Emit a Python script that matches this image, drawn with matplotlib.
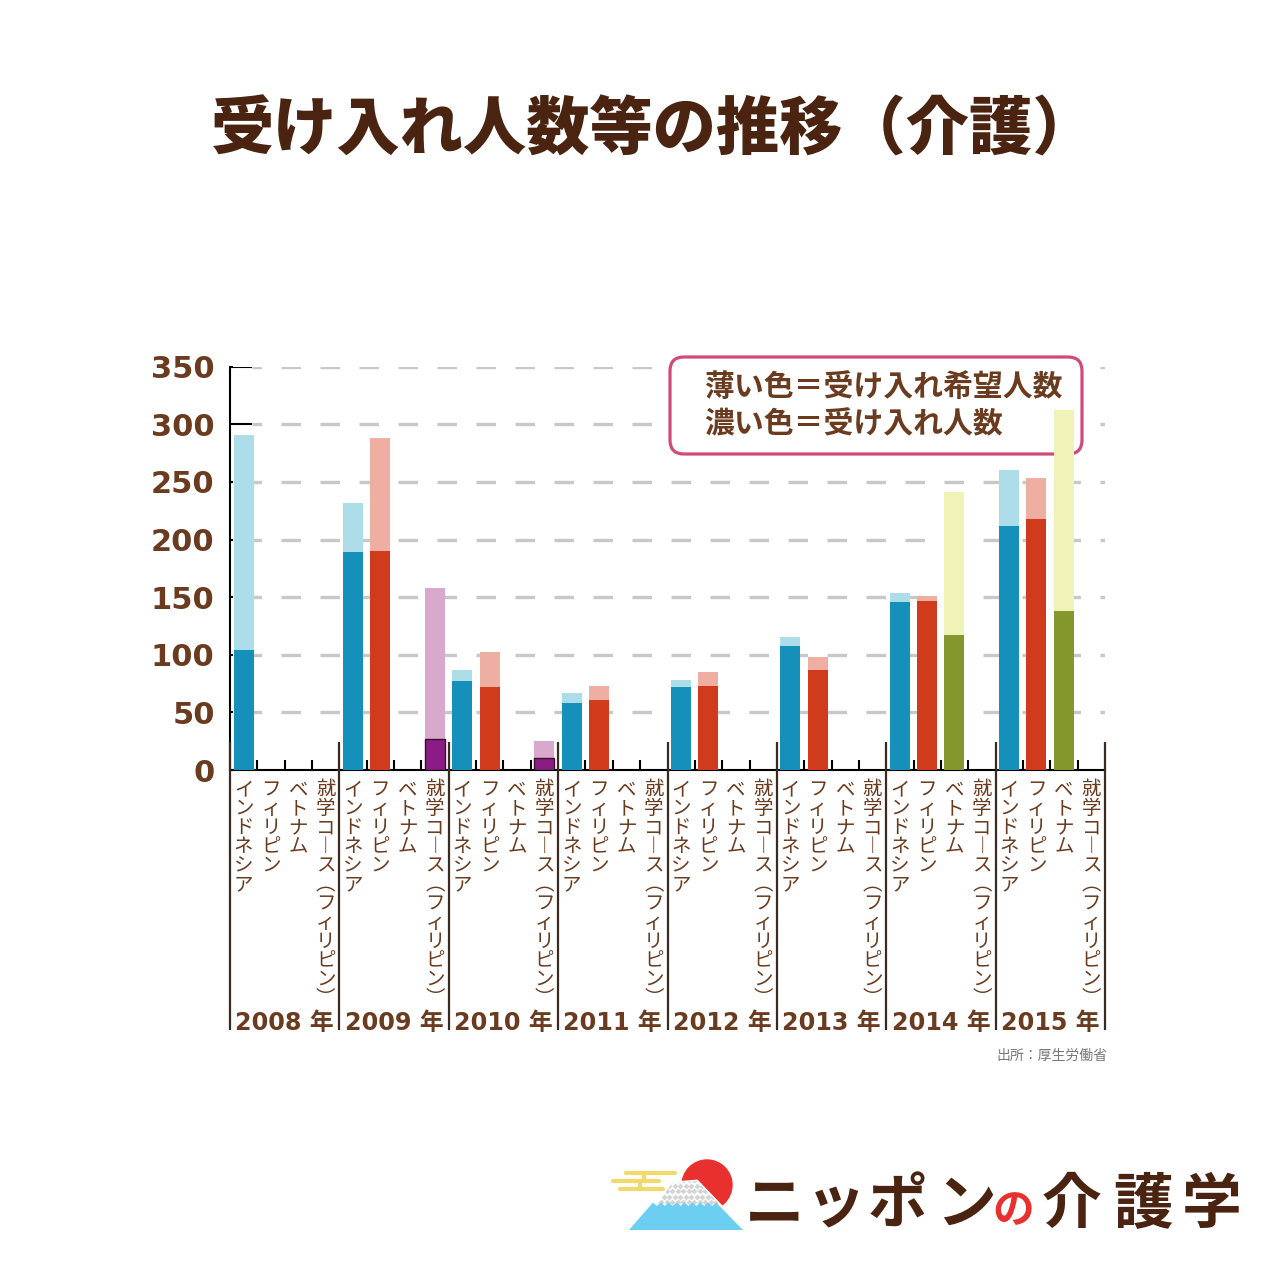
import numpy as np
import matplotlib
matplotlib.use('Agg')
import matplotlib.pyplot as plt
from matplotlib.transforms import blended_transform_factory
from matplotlib.patches import FancyBboxPatch, Polygon, Circle

plt.rcParams['lines.scale_dashes'] = False
plt.rcParams['font.family'] = ['Noto Sans CJK JP', 'DejaVu Sans']

nan = np.nan
# ---------------- data ----------------
years = ['2008', '2009', '2010', '2011', '2012', '2013', '2014', '2015']
categories = ['インドネシア', 'フィリピン', 'ベトナム', '就学コース（フィリピン）']
indonesia_hope = [291, 232, 87, 67, 78, 115, 154, 260]
indonesia_accept = [104, 189, 77, 58, 72, 108, 146, 212]
philippines_hope = [nan, 288, 102, 73, 85, 98, 151, 253]
philippines_accept = [nan, 190, 72, 61, 73, 87, 147, 218]
vietnam_hope = [nan, nan, nan, nan, nan, nan, 241, 312]
vietnam_accept = [nan, nan, nan, nan, nan, nan, 117, 138]
school_hope = [nan, 158, 25, nan, nan, nan, nan, nan]
school_accept = [nan, 27, 10, nan, nan, nan, nan, nan]
yticks = [0, 50, 100, 150, 200, 250, 300, 350]
title = '受け入れ人数等の推移（介護）'
legend_lines = ['薄い色＝受け入れ希望人数', '濃い色＝受け入れ人数']
source = '出所：厚生労働省'
logo_main = ['ニ', 'ッ', 'ポ', 'ン']
logo_no = 'の'
logo_tail = ['介', '護', '学']

hope_series = [indonesia_hope, philippines_hope, vietnam_hope, school_hope]
accept_series = [indonesia_accept, philippines_accept, vietnam_accept, school_accept]
light_colors = ['#acdde9', '#efaea2', '#f0f2b8', '#d8a9cd']
dark_colors = ['#1590bb', '#d03c1b', '#84972d', '#8c1c85']

BROWN = '#6b3b1f'
DARK = '#4a2410'

# ---------------- figure ----------------
fig = plt.figure(figsize=(12.8, 12.8), dpi=100)
ov = fig.add_axes([0, 0, 1, 1])
ov.set_xlim(0, 1280)
ov.set_ylim(1280, 0)
ov.axis('off')
ov.set_zorder(1)

ax_left, ax_right, ax_top, ax_bottom = 230, 1105, 366.7, 770
ax = fig.add_axes([ax_left / 1280, (1280 - ax_bottom) / 1280,
                   (ax_right - ax_left) / 1280, (ax_bottom - ax_top) / 1280])
ax.set_zorder(2)
ax.patch.set_alpha(0)
nslots = len(years) * len(categories)
ax.set_xlim(0, nslots)
ax.set_ylim(0, 350)
slot_px = (ax_right - ax_left) / nslots
for s in ['top', 'right']:
    ax.spines[s].set_visible(False)
for s in ['left', 'bottom']:
    ax.spines[s].set_linewidth(1.5)
    ax.spines[s].set_color('black')
ax.set_xticks([])
ax.set_yticks(yticks)
ax.tick_params(axis='y', direction='in', length=2.5, width=1.5, pad=11,
               labelsize=22, labelcolor=BROWN)
for lbl in ax.get_yticklabels():
    lbl.set_fontfamily('DejaVu Sans')
    lbl.set_fontweight('bold')

bx = blended_transform_factory(ax.transData, ov.transData)

# gridlines
grid_x0 = 22 / slot_px
for v in yticks[1:]:
    ax.plot([grid_x0, nslots], [v, v], color='#c8c8c8', lw=2.4,
            ls=(7.2, (14.04, 14.04)), zorder=1, solid_capstyle='butt',
            dash_capstyle='butt')
ax.hlines([350, 300], 0, 22 / slot_px, color='black', lw=1.5, zorder=3)

# slot ticks and group separators
ng = len(categories)
slot_bounds = [b for b in range(1, nslots) if b % ng != 0]
ax.vlines(slot_bounds, 760, 770, transform=bx, color='black', lw=1.5,
          zorder=6, clip_on=False)
ax.vlines(list(range(0, nslots + 1, ng)), 742, 1030, transform=bx,
          color='#3b2a20', lw=1.6, zorder=6, clip_on=False)

# bars
bar_off = 3.5 / slot_px
bar_w = 20 / slot_px
for k in range(len(categories)):
    xs = np.arange(len(years)) * ng + k + bar_off
    ax.bar(xs, hope_series[k], width=bar_w, align='edge',
           color=light_colors[k], zorder=4)
    ec = '#3a1030' if k == 3 else 'none'
    ax.bar(xs, accept_series[k], width=bar_w, align='edge',
           color=dark_colors[k], zorder=5, edgecolor=ec,
           linewidth=1 if k == 3 else 0)

# vertical category labels (stacked characters, vertical writing forms)
vertical_forms = {'（': '︵', '）': '︶', 'ー': '︱'}
fs_lab = 14
fs_px = fs_lab * 100 / 72
pitch = 19.0
top = 778
for i in range(len(years)):
    for k, cat in enumerate(categories):
        xc = i * ng + k + 0.5
        for j, ch in enumerate(cat):
            yc = top + pitch * j
            ax.text(xc, yc + 0.88 * fs_px, vertical_forms.get(ch, ch),
                    transform=bx, ha='center', va='baseline',
                    fontsize=fs_lab, color=BROWN)
    ax.text(i * ng + ng / 2, 1022.5, f'{years[i]} 年', transform=bx,
            ha='center', va='center', fontsize=17.2, fontweight='bold',
            color=BROWN, family=['DejaVu Sans', 'Noto Sans CJK JP'])

# legend box
box = FancyBboxPatch((670, 357), 412, 97,
                     boxstyle='round,pad=0,rounding_size=14',
                     transform=ov.transData, facecolor='white',
                     edgecolor='#cf4a7a', lw=2.3, zorder=3, clip_on=False)
ax.add_patch(box)
for n, line in enumerate(legend_lines):
    ax.text(704, 387 + 37 * n, line, transform=ov.transData, ha='left',
            va='center', fontsize=21.5, fontweight='bold', color=BROWN,
            zorder=3.5)

# title and source
ov.text(654, 131, title, ha='center', va='center', fontsize=45.5,
        fontweight='heavy', color=DARK)
ov.text(1107, 1056, source, ha='right', va='center', fontsize=10,
        color='#777777')

# ---------------- logo ----------------
for (xa, xb, yy) in [(626, 675, 1173), (613, 659, 1181), (620, 663, 1189)]:
    ov.plot([xa, xb], [yy, yy], color='#f2d96b', lw=3, solid_capstyle='round')
ov.plot([644, 644], [1173, 1181], color='#f2d96b', lw=3)
ov.plot([640, 640], [1181, 1189], color='#f2d96b', lw=3)
ov.add_patch(Circle((707, 1185), 25, color='#e8312f', zorder=2))
snow = Polygon([(672, 1183), (697, 1181), (721, 1206), (656, 1206)],
               closed=True, facecolor='white', edgecolor='white', lw=2,
               zorder=3)
ov.add_patch(snow)
gx, gy = np.meshgrid(np.arange(650, 725, 5.5), np.arange(1180, 1208, 5.5))
gx = gx + (np.arange(gx.shape[0])[:, None] % 2) * 2.75
dots = ov.scatter(gx.ravel(), gy.ravel(), s=9, marker='D', color='#d4d4d4',
                  zorder=4, linewidths=0)
dots.set_clip_path(snow)
zx = np.linspace(653, 716, 17)
zy = np.where(np.arange(17) % 2 == 0, 1202.5, 1206)
mount_pts = list(zip(zx, zy)) + [(743, 1230), (629, 1230)]
ov.add_patch(Polygon(mount_pts, closed=True, facecolor='#6ccef0',
                     edgecolor='none', zorder=5))

logo_fs = 43
logo_px = logo_fs * 100 / 72
baseline = 1200 + 0.38 * logo_px
for ch, xc in zip(logo_main, [775, 836, 897, 966]):
    ov.text(xc, baseline, ch, ha='center', va='baseline', fontsize=logo_fs,
            fontweight='bold', color=DARK)
ov.text(1013, baseline, logo_no, ha='center', va='baseline', fontsize=30,
        fontweight='bold', color='#e8312f')
for ch, xc in zip(logo_tail, [1072, 1143, 1212]):
    ov.text(xc, baseline, ch, ha='center', va='baseline', fontsize=logo_fs,
            fontweight='bold', color=DARK)

fig.savefig('out.png', dpi=100, facecolor='white')
